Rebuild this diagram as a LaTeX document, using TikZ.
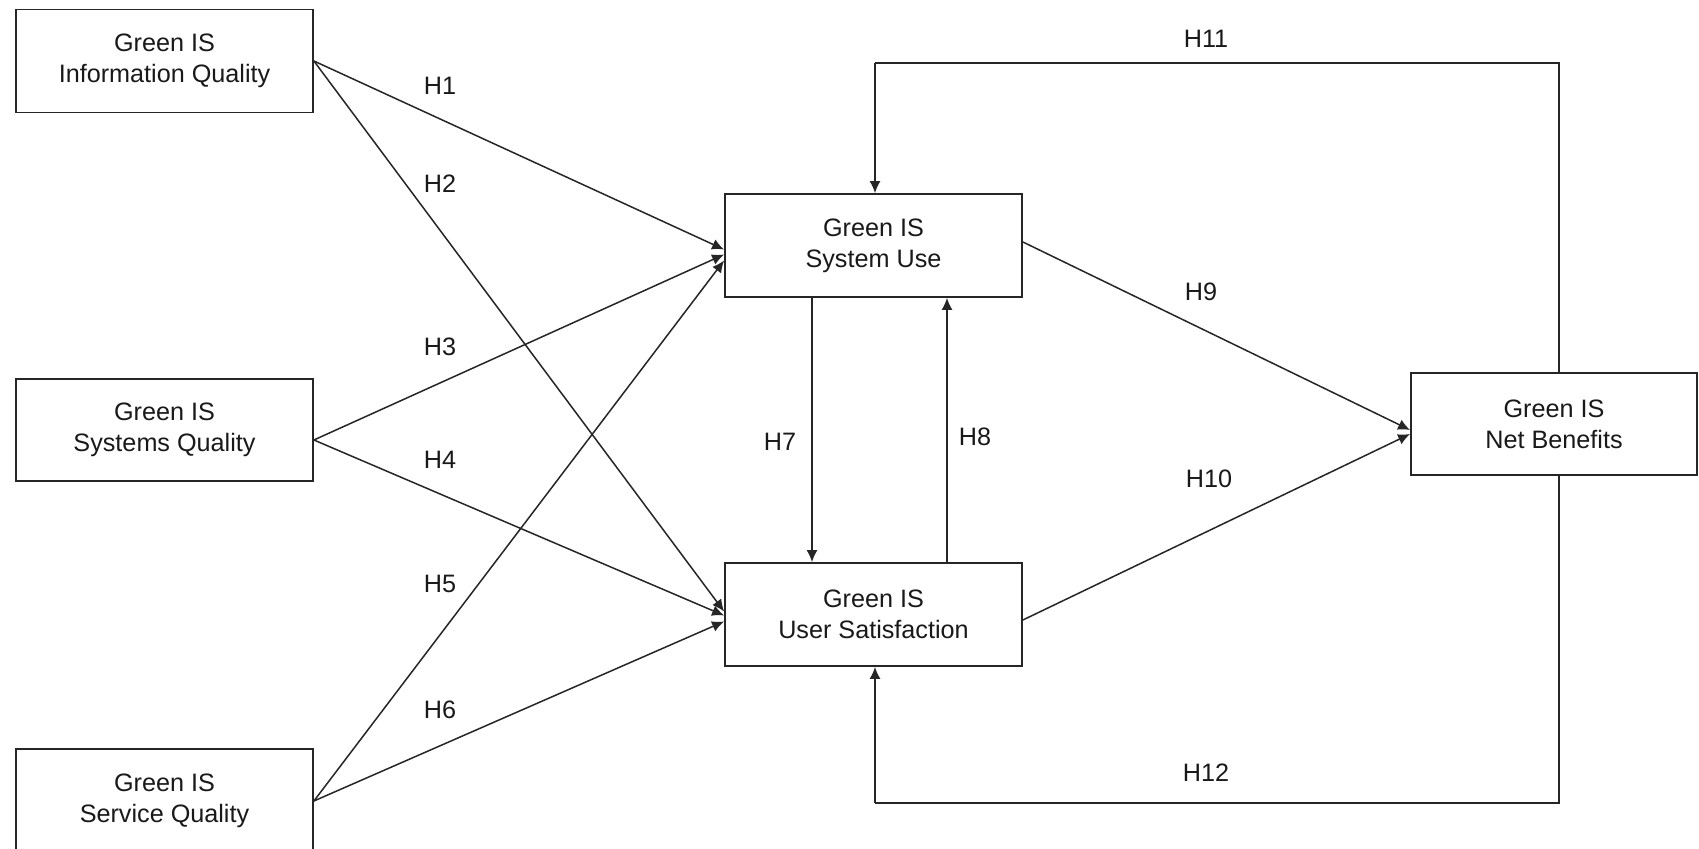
\documentclass[tikz,border=0pt]{standalone}
\usepackage{fontspec}
\setmainfont{Liberation Sans}
\usetikzlibrary{calc,arrows.meta}
\begin{document}
\begin{tikzpicture}[x=0.5pt,y=-0.5pt,
  box/.style={draw=black!85,line width=0.9pt,minimum width=148.5pt,minimum height=51.5pt,inner sep=0pt,align=center,
    font=\fontsize{12.6}{15.5}\selectfont,text=black!90},
  lab/.style={font=\fontsize{12.6}{15.5}\selectfont,text=black!90,inner sep=0pt},
  arr/.style={draw=black!85,line width=0.75pt,-{Latex[length=6pt,width=5.5pt]}},
  ln/.style={draw=black!85,line width=0.75pt}]
\useasboundingbox[clip] (0,0) rectangle (1699,849);
\fill[white] (0,0) rectangle (1699,849);
% nodes
\node[box] (iq) at (164.5,61) {Green IS\\Information Quality};
\node[box,minimum height=51pt] (sq) at (164.5,430) {Green IS\\Systems Quality};
\node[box,minimum height=52pt] (vq) at (164.5,801) {Green IS\\Service Quality};
\node[box] (su) at (873.5,245.5) {Green IS\\System Use};
\node[box] (us) at (873.5,614.5) {Green IS\\User Satisfaction};
\node[box,minimum width=143pt,minimum height=51pt] (nb) at (1554,424) {Green IS\\Net Benefits};
% connectors to System Use
\draw[arr] (iq.east) -- ($(su.west)+(0,4)$);
\draw[arr] ($(sq.east)+(0,10)$) -- ($(su.west)+(0,9)$);
\draw[arr] (vq.east) -- ($(su.west)+(0,15)$);
% connectors to User Satisfaction
\draw[arr] (iq.east) -- ($(us.west)+(0,-3)$);
\draw[arr] ($(sq.east)+(0,10)$) -- ($(us.west)+(0,1)$);
\draw[arr] (vq.east) -- ($(us.west)+(0,7)$);
% H7, H8
\draw[arr] ($(su.south)+(-61.5,0)$) -- ($(us.north)+(-61.5,0)$);
\draw[arr] ($(us.north)+(73.5,0)$) -- ($(su.south)+(73.5,0)$);
% H9, H10
\draw[arr] ($(su.east)+(0,-3.5)$) -- ($(nb.west)+(0,6)$);
\draw[arr] ($(us.east)+(0,5.5)$) -- ($(nb.west)+(0,10)$);
% H11, H12
\coordinate (t1) at (1559,63);
\coordinate (t2) at (875,63);
\coordinate (b1) at (1559,803);
\coordinate (b2) at (875,803);
\draw[ln] ($(nb.north)+(5,0)$) -- (t1) -- (t2);
\draw[arr] (t2) -- ($(su.north)+(1.5,0)$);
\draw[ln] ($(nb.south)+(5,0)$) -- (b1) -- (b2);
\draw[arr] (b2) -- ($(us.south)+(1.5,0)$);
% labels
\node[lab] (h1) at (440,86) {H1};
\node[lab] (h2) at (440,184) {H2};
\node[lab] (h3) at (440,347) {H3};
\node[lab] (h4) at (440,460) {H4};
\node[lab] (h5) at (440,584) {H5};
\node[lab] (h6) at (440,710) {H6};
\node[lab] (h7) at (780,442) {H7};
\node[lab] (h8) at (975,437) {H8};
\node[lab] (h9) at (1201,292) {H9};
\node[lab] (h10) at (1209,479) {H10};
\node[lab] (h11) at (1206,39) {H11};
\node[lab] (h12) at (1206,773) {H12};
\end{tikzpicture}
\end{document}
